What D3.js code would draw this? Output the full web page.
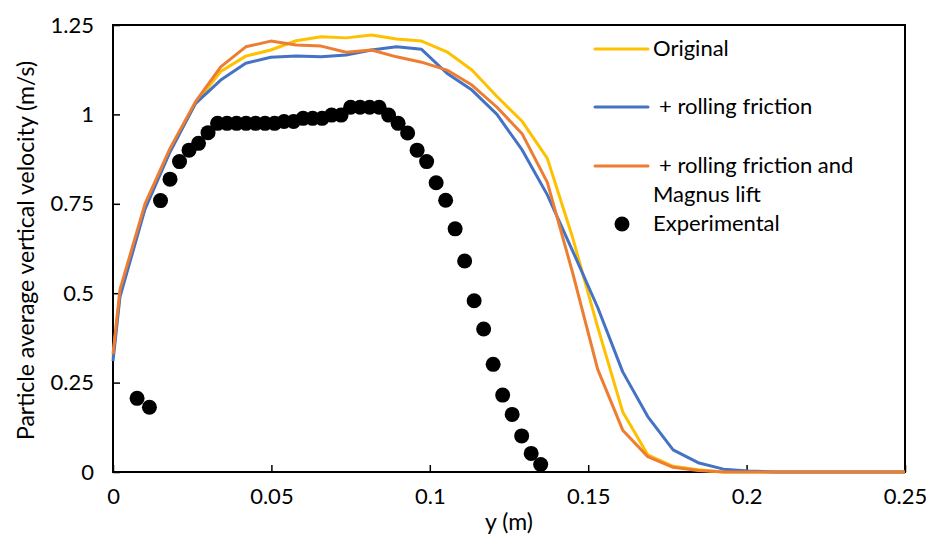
<!DOCTYPE html>
<html>
<head>
<meta charset="utf-8">
<script src="https://cdn.jsdelivr.net/npm/d3@7"></script>
<style>
  body { margin: 0; background: #fff; }
  text { font-family: Lato, 'Open Sans', sans-serif; fill: #000; }
</style>
</head>
<body>
<div id="chart"></div>
<script>
// simulation bin positions (m)
const simX = [0, 0.0022, 0.0101, 0.018, 0.026, 0.034, 0.0419, 0.0498, 0.0578, 0.0657, 0.0736,
  0.0816, 0.0895, 0.0974, 0.1054, 0.1133, 0.1212, 0.1292, 0.1371, 0.145, 0.153, 0.1609,
  0.1688, 0.1768, 0.1847, 0.1927, 0.2006, 0.2085, 0.2165, 0.2244, 0.2323, 0.2403, 0.2482, 0.25]

const original = [0.32, 0.50, 0.74, 0.90, 1.03, 1.12, 1.163, 1.18, 1.206, 1.217, 1.214,
  1.222, 1.211, 1.205, 1.175, 1.124, 1.05, 0.98, 0.877, 0.658, 0.405, 0.168,
  0.048, 0.016, 0.006, 0, 0, 0, 0, 0, 0, 0, 0, 0]

const rolling = [0.31, 0.49, 0.735, 0.895, 1.03, 1.096, 1.143, 1.16, 1.163, 1.161, 1.166,
  1.18, 1.189, 1.182, 1.115, 1.068, 1.0, 0.90, 0.775, 0.62, 0.46, 0.28,
  0.155, 0.062, 0.026, 0.008, 0.003, 0, 0, 0, 0, 0, 0, 0]

const magnus = [0.33, 0.51, 0.75, 0.905, 1.035, 1.133, 1.189, 1.205, 1.194, 1.191, 1.174,
  1.18, 1.161, 1.146, 1.124, 1.082, 1.02, 0.945, 0.81, 0.56, 0.287, 0.117,
  0.043, 0.013, 0.004, 0, 0, 0, 0, 0, 0, 0, 0, 0]

// experimental points
const expX = [0.0076, 0.0115, 0.015, 0.018, 0.021, 0.024, 0.027, 0.030, 0.033, 0.036, 0.039,
  0.042, 0.045, 0.048, 0.051, 0.054, 0.057, 0.060, 0.063, 0.066, 0.069, 0.072, 0.075,
  0.078, 0.081, 0.084, 0.087, 0.090, 0.093, 0.096, 0.099, 0.102, 0.105, 0.108, 0.111,
  0.114, 0.117, 0.120, 0.123, 0.126, 0.129, 0.132, 0.135]
const expY = [0.206, 0.181, 0.759, 0.819, 0.868, 0.90, 0.919, 0.949, 0.975, 0.975, 0.975,
  0.975, 0.975, 0.975, 0.975, 0.98, 0.98, 0.989, 0.989, 0.989, 0.998, 0.998, 1.02,
  1.02, 1.02, 1.02, 0.998, 0.975, 0.948, 0.90, 0.868, 0.809, 0.76, 0.68, 0.59,
  0.479, 0.40, 0.301, 0.215, 0.161, 0.101, 0.052, 0.021]

const xTicks = [0, 0.05, 0.1, 0.15, 0.2, 0.25]
const yTicks = [0, 0.25, 0.5, 0.75, 1, 1.25]

const seriesNames = ['Original', ' + rolling friction', ' + rolling friction and', 'Experimental']
const colors = ['#FFC000', '#4472C4', '#ED7D31']

let W = 926
let H = 538
let margin = { top: 25, right: 21, bottom: 66, left: 113 }
let width = W - margin.left - margin.right
let height = H - margin.top - margin.bottom
let fontSize = '22px'

let x = d3.scaleLinear().domain([0, 0.25]).range([0, width])
let y = d3.scaleLinear().domain([0, 1.25]).range([height, 0])

let svg = d3.select('#chart')
  .append('svg')
  .attr('width', W)
  .attr('height', H)

let g = svg.append('g')
  .attr('transform', `translate(${margin.left}, ${margin.top})`)

/* axes with inward ticks */
let xAxis = d3.axisBottom(x).tickValues(xTicks).tickSize(-7).tickPadding(16)
  .tickFormat(d => String(d))
let yAxis = d3.axisLeft(y).tickValues(yTicks).tickSize(-7).tickPadding(19)
  .tickFormat(d => String(d))

let gx = g.append('g')
  .attr('transform', `translate(0, ${height})`)
  .call(xAxis)
let gy = g.append('g').call(yAxis)

;[gx, gy].forEach(a => {
  a.select('.domain').remove()
  a.selectAll('line').attr('stroke', '#000').attr('stroke-width', 1.5)
  a.selectAll('text').style('font-size', fontSize).attr('fill', '#000')
})

// frame
g.append('rect')
  .attr('width', width)
  .attr('height', height)
  .attr('fill', 'none')
  .attr('stroke', '#000')
  .attr('stroke-width', 2)

/* lines */
let line = d3.line()
  .x((d, i) => x(simX[i]))
  .y(d => y(d))

;[original, rolling, magnus].forEach((s, i) => {
  g.append('path')
    .datum(s)
    .attr('d', line)
    .attr('fill', 'none')
    .attr('stroke', colors[i])
    .attr('stroke-width', 3)
    .attr('stroke-linejoin', 'round')
})

/* experimental dots */
g.append('g')
  .selectAll('circle')
  .data(expX)
  .enter()
  .append('circle')
  .attr('cx', d => x(d))
  .attr('cy', (d, i) => y(expY[i]))
  .attr('r', 7.5)
  .attr('fill', '#000')

/* axis titles */
svg.append('text')
  .attr('transform', `translate(34, ${margin.top + height / 2 + 2}) rotate(-90)`)
  .attr('text-anchor', 'middle')
  .style('font-size', '23px')
  .text('Particle average vertical velocity (m/s)')

svg.append('text')
  .attr('x', margin.left + width / 2)
  .attr('y', 530)
  .attr('text-anchor', 'middle')
  .style('font-size', '23px')
  .text('y (m)')

/* legend */
let legend = svg.append('g')
let legRows = [49, 107, 166]
legRows.forEach((ly, i) => {
  legend.append('line')
    .attr('x1', 595).attr('x2', 648)
    .attr('y1', ly).attr('y2', ly)
    .attr('stroke', colors[i])
    .attr('stroke-width', 3)
    .attr('stroke-linecap', 'round')
  legend.append('text')
    .attr('x', i === 0 ? 653 : 659)
    .attr('y', ly + 7)
    .style('font-size', fontSize)
    .text(seriesNames[i].trim())
})
legend.append('text')
  .attr('x', 653)
  .attr('y', 202)
  .style('font-size', fontSize)
  .text('Magnus lift')
legend.append('circle')
  .attr('cx', 622)
  .attr('cy', 224)
  .attr('r', 7.5)
  .attr('fill', '#000')
legend.append('text')
  .attr('x', 653)
  .attr('y', 231)
  .style('font-size', fontSize)
  .text(seriesNames[3])
</script>
</body>
</html>
